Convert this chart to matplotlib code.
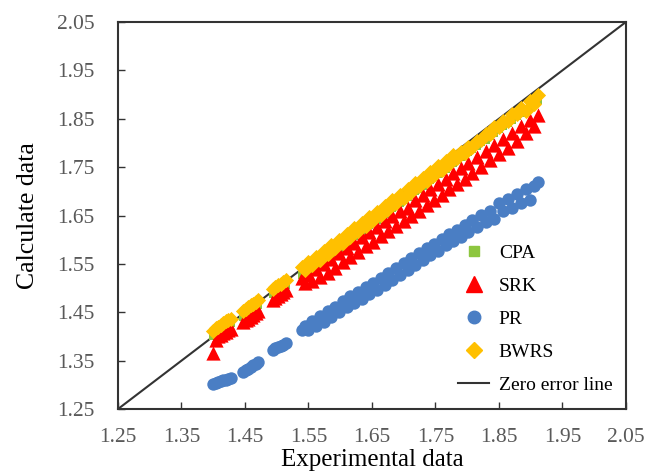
import matplotlib
matplotlib.use("Agg")
import matplotlib.pyplot as plt
from matplotlib.lines import Line2D

plt.rcParams['font.family'] = ['Liberation Serif', 'DejaVu Serif']

# Experimental data (shared by all models)
x_exp = [1.400, 1.404, 1.408, 1.412, 1.416, 1.420, 1.424, 1.428,
         1.447, 1.451, 1.455, 1.459, 1.463, 1.467, 1.471,
         1.494, 1.498, 1.502, 1.506, 1.510, 1.514,
         1.540, 1.545, 1.550, 1.556, 1.562, 1.568, 1.574, 1.580, 1.586, 1.592,
         1.598, 1.604, 1.610, 1.616, 1.622, 1.628, 1.634, 1.640, 1.646, 1.652,
         1.658, 1.664, 1.670, 1.676, 1.682, 1.688, 1.694, 1.700, 1.706, 1.712,
         1.718, 1.724, 1.730, 1.736, 1.742, 1.748, 1.754, 1.760, 1.766, 1.772,
         1.778, 1.784, 1.790, 1.796, 1.802, 1.808, 1.815, 1.822, 1.829, 1.836,
         1.843, 1.850, 1.857, 1.864, 1.871, 1.878, 1.885, 1.892, 1.899, 1.906,
         1.912]

# Calculated values per model
y_cpa = [1.400, 1.406, 1.409, 1.413, 1.416, 1.420, 1.423, 1.427,
         1.441, 1.445, 1.449, 1.453, 1.457, 1.461, 1.465,
         1.487, 1.491, 1.495, 1.499, 1.503, 1.507,
         1.528, 1.532, 1.538, 1.543, 1.549, 1.554, 1.560, 1.566, 1.572, 1.577,
         1.583, 1.589, 1.595, 1.601, 1.607, 1.612, 1.618, 1.624, 1.630, 1.636,
         1.641, 1.647, 1.653, 1.659, 1.665, 1.671, 1.676, 1.682, 1.688, 1.694,
         1.700, 1.705, 1.711, 1.717, 1.723, 1.729, 1.735, 1.740, 1.746, 1.752,
         1.758, 1.764, 1.770, 1.775, 1.781, 1.787, 1.794, 1.801, 1.807, 1.814,
         1.821, 1.828, 1.834, 1.841, 1.848, 1.855, 1.862, 1.868, 1.875, 1.882,
         1.888]

y_srk = [1.366, 1.393, 1.400, 1.404, 1.407, 1.410, 1.413, 1.416,
         1.430, 1.434, 1.437, 1.441, 1.444, 1.448, 1.452,
         1.476, 1.480, 1.484, 1.487, 1.491, 1.495,
         1.520, 1.510, 1.528, 1.515, 1.540, 1.522, 1.550, 1.532, 1.561, 1.542,
         1.572, 1.553, 1.583, 1.564, 1.594, 1.575, 1.605, 1.586, 1.616, 1.596,
         1.627, 1.607, 1.638, 1.618, 1.649, 1.629, 1.660, 1.639, 1.666, 1.649,
         1.682, 1.660, 1.693, 1.672, 1.704, 1.682, 1.715, 1.693, 1.726, 1.704,
         1.737, 1.715, 1.748, 1.726, 1.759, 1.738, 1.770, 1.750, 1.783, 1.764,
         1.795, 1.778, 1.808, 1.790, 1.821, 1.805, 1.834, 1.820, 1.847, 1.834,
         1.858]

y_pr = [1.302, 1.304, 1.306, 1.307, 1.309, 1.310, 1.312, 1.314,
        1.327, 1.330, 1.333, 1.337, 1.340, 1.344, 1.347,
        1.372, 1.376, 1.378, 1.381, 1.383, 1.386,
        1.413, 1.422, 1.414, 1.431, 1.421, 1.443, 1.430, 1.452, 1.441, 1.461,
        1.451, 1.474, 1.460, 1.483, 1.470, 1.492, 1.477, 1.502, 1.488, 1.511,
        1.497, 1.521, 1.507, 1.531, 1.517, 1.542, 1.528, 1.551, 1.537, 1.562,
        1.548, 1.572, 1.557, 1.582, 1.568, 1.592, 1.577, 1.601, 1.588, 1.611,
        1.597, 1.621, 1.606, 1.630, 1.616, 1.640, 1.626, 1.652, 1.637, 1.660,
        1.643, 1.675, 1.660, 1.684, 1.666, 1.695, 1.675, 1.704, 1.683, 1.712,
        1.719]

y_bwrs = [1.412, 1.418, 1.420, 1.424, 1.427, 1.431, 1.433, 1.437,
          1.452, 1.456, 1.460, 1.464, 1.468, 1.472, 1.476,
          1.498, 1.502, 1.506, 1.509, 1.513, 1.517,
          1.544, 1.537, 1.554, 1.548, 1.565, 1.559, 1.577, 1.571, 1.589, 1.582,
          1.600, 1.594, 1.612, 1.606, 1.624, 1.617, 1.635, 1.629, 1.647, 1.641,
          1.658, 1.652, 1.670, 1.664, 1.682, 1.676, 1.693, 1.687, 1.705, 1.699,
          1.717, 1.710, 1.728, 1.722, 1.740, 1.734, 1.752, 1.745, 1.763, 1.757,
          1.775, 1.769, 1.781, 1.780, 1.792, 1.792, 1.805, 1.806, 1.818, 1.819,
          1.832, 1.833, 1.845, 1.846, 1.859, 1.860, 1.873, 1.867, 1.886, 1.880,
          1.899]

ticks = [1.25, 1.35, 1.45, 1.55, 1.65, 1.75, 1.85, 1.95, 2.05]
tick_labels = ["1.25", "1.35", "1.45", "1.55", "1.65", "1.75", "1.85", "1.95", "2.05"]

fig = plt.figure(figsize=(6.47, 4.74), dpi=100)
ax = fig.add_axes([0.1824, 0.1371, 0.785, 0.8165])

ax.plot([1.25, 2.05], [1.25, 2.05], color="#333333", lw=1.5, zorder=1)
ax.scatter(x_exp, y_cpa, marker="s", s=40, color="#8DC63F", lw=0, zorder=2)
ax.scatter(x_exp, y_srk, marker="^", s=105, color="#FF0000", lw=0, zorder=3)
ax.scatter(x_exp, y_pr, marker="o", s=80, color="#4A7EC4", lw=0, zorder=3)
ax.scatter(x_exp, y_bwrs, marker="D", s=60, color="#FFC000", lw=0, zorder=4)

ax.set_xlim(1.25, 2.05)
ax.set_ylim(1.25, 2.05)
ax.set_xticks(ticks)
ax.set_xticklabels(tick_labels)
ax.set_yticks(ticks)
ax.set_yticklabels(tick_labels)
ax.tick_params(direction="in", length=5, width=1, color="#333333",
               labelsize=15.5, labelcolor="#595959")
ax.tick_params(axis="x", pad=14)
ax.tick_params(axis="y", pad=17)
for sp in ax.spines.values():
    sp.set_color("#333333")
    sp.set_linewidth(1.5)

ax.set_xlabel("Experimental data", fontsize=18, labelpad=1)
ax.set_ylabel("Calculate data", fontsize=18.5, labelpad=13)

handles = [
    Line2D([], [], marker="s", ls="", color="#8DC63F", markersize=7),
    Line2D([], [], marker="^", ls="", color="#FF0000", markersize=11),
    Line2D([], [], marker="o", ls="", color="#4A7EC4", markersize=9),
    Line2D([], [], marker="D", ls="", color="#FFC000", markersize=8),
    Line2D([], [], color="#333333", lw=1.5),
]
labels = ["CPA", "SRK", "PR", "BWRS", "Zero error line"]
fig.legend(handles, labels, loc="upper left", bbox_to_anchor=(458 / 647, 1 - 244 / 474),
           frameon=False, fontsize=14, handlelength=1.6, handletextpad=0.5,
           labelspacing=0.8, borderpad=0, borderaxespad=0)

fig.savefig("out.png", dpi=100)
